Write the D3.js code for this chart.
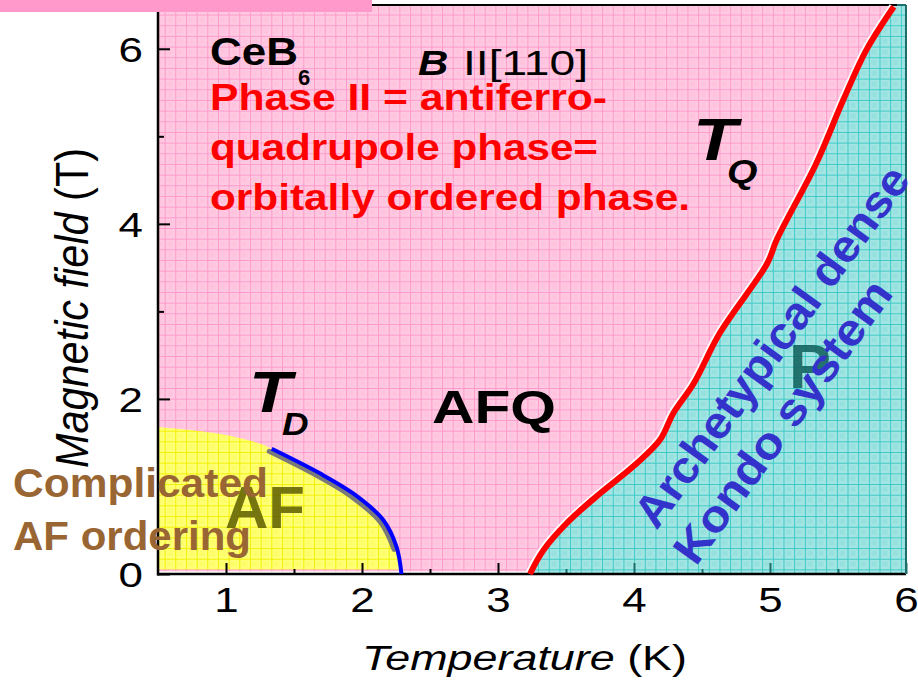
<!DOCTYPE html>
<html>
<head>
<meta charset="utf-8">
<script src="https://cdn.jsdelivr.net/npm/d3@7"></script>
<style>
  html, body { margin: 0; padding: 0; background: #ffffff; }
  svg { display: block; font-family: "Liberation Sans", Arial, Helvetica, sans-serif; }
</style>
</head>
<body>
<svg id="chart" width="918" height="689"></svg>
<script>
// ---- data: CeB6 phase diagram, B || [110] ----
const xTicks = [1, 2, 3, 4, 5, 6];
const xMinorTicks = [1.5, 2.5, 3.5, 4.5, 5.5];
const yTicks = [0, 2, 4, 6];
const yMinorTicks = [1, 3, 5];

// T_Q boundary (AFQ <-> paramagnetic), [T (K), B (T)]
const tqCurve = [[3.235, 0], [3.333, 0.27], [3.505, 0.58], [3.75, 0.92], [3.995, 1.23],
  [4.19, 1.53], [4.29, 1.84], [4.44, 2.18], [4.63, 2.75], [4.98, 3.55], [5.05, 3.82],
  [5.34, 4.69], [5.54, 5.42], [5.71, 5.99], [5.91, 6.48]];
// T_D boundary (AF <-> AFQ)
const tdCurve = [[1.336, 1.43], [1.69, 1.15], [1.935, 0.92], [2.155, 0.62], [2.254, 0.31],
  [2.29, 0]];
// upper edge of the AF region left of the measured T_D line
const afEdge = [[0.5, 1.68], [0.96, 1.60], [1.25, 1.49]];

const xDomain = [0.5, 6];
const yDomain = [0, 6.5];

(function draw() {
  // ---- layout ----
  const svg = d3.select("#chart");
  const plotLeft = 158, plotRight = 906, plotTop = 5, plotBottom = 574;
  const x = d3.scaleLinear().domain(xDomain).range([plotLeft, plotRight]);
  const y = d3.scaleLinear().domain(yDomain).range([plotBottom, plotTop]);

  // grid-pattern fills for the three phase regions
  const defs = svg.append("defs");
  function gridPattern(id, bg, line) {
    const s = 10.67;
    const p = defs.append("pattern").attr("id", id)
      .attr("patternUnits", "userSpaceOnUse")
      .attr("x", 4.57).attr("y", 3.9).attr("width", s).attr("height", s);
    p.append("rect").attr("width", s).attr("height", s).attr("fill", bg);
    p.append("rect").attr("width", s / 2).attr("height", s / 2).attr("x", s / 4).attr("y", s / 4)
      .attr("fill", line).attr("opacity", 0.12);
    p.append("line").attr("x1", 0.5).attr("x2", 0.5).attr("y1", 0).attr("y2", s)
      .attr("stroke", line).attr("stroke-width", 1);
    p.append("line").attr("y1", 0.5).attr("y2", 0.5).attr("x1", 0).attr("x2", s)
      .attr("stroke", line).attr("stroke-width", 1);
  }
  gridPattern("gridPink", "#ffc9e1", "#ff9acb");
  gridPattern("gridTeal", "#a3e5e3", "#3cc9c6");
  gridPattern("gridYellow", "#ffff78", "#f2f000");

  // AFQ (phase II) background
  svg.append("rect")
    .attr("x", x(xDomain[0])).attr("y", y(yDomain[1]))
    .attr("width", x(xDomain[1]) - x(xDomain[0]))
    .attr("height", y(0.03) - y(yDomain[1]))
    .attr("fill", "url(#gridPink)");

  const lineGen = d3.line().x(d => x(d[0])).y(d => y(d[1])).curve(d3.curveCatmullRom.alpha(0.5));

  // paramagnetic region, right of T_Q
  svg.append("path")
    .attr("d", lineGen(tqCurve) +
      `L${x(xDomain[1])},${y(yDomain[1])}L${x(xDomain[1])},${y(0)}Z`)
    .attr("fill", "url(#gridTeal)");

  // AF region
  const afRegion = afEdge.concat(tdCurve);
  svg.append("path")
    .attr("d", lineGen(afRegion) +
      `L${x(tdCurve[tdCurve.length - 1][0])},${y(0.05)}L${x(xDomain[0])},${y(0.05)}Z`)
    .attr("fill", "url(#gridYellow)");

  // ---- axes ----
  const tealInk = "#1d6d6b";
  const xAxis = svg.append("g").attr("transform", `translate(0,${plotBottom})`)
    .call(d3.axisBottom(x).tickValues(xTicks).tickSizeInner(-11).tickSizeOuter(0).tickPadding(0)
      .tickFormat(d3.format("d")));
  const xMinor = svg.append("g").attr("transform", `translate(0,${plotBottom})`)
    .call(d3.axisBottom(x).tickValues(xMinorTicks).tickSizeInner(-5).tickSizeOuter(0).tickFormat(""));
  const yAxis = svg.append("g").attr("transform", `translate(${plotLeft},0)`)
    .call(d3.axisLeft(y).tickValues(yTicks).tickSizeInner(-12).tickSizeOuter(0).tickPadding(0)
      .tickFormat(d3.format("d")));
  const yMinor = svg.append("g").attr("transform", `translate(${plotLeft},0)`)
    .call(d3.axisLeft(y).tickValues(yMinorTicks).tickSizeInner(-6).tickSizeOuter(0).tickFormat(""));

  [xAxis, xMinor, yAxis, yMinor].forEach(g => {
    g.select(".domain").remove();
    g.selectAll(".tick line").attr("stroke", "#000").attr("stroke-width", 2);
  });
  // ticks that sit inside the paramagnetic region take its dark teal ink
  [xAxis, xMinor].forEach(g => {
    g.selectAll(".tick line").attr("stroke", d => d >= 3.5 ? tealInk : "#000");
  });

  xAxis.selectAll(".tick text")
    .attr("y", null).attr("dy", null)
    .attr("transform", "translate(0,38) scale(1.22,1)")
    .attr("text-anchor", "middle")
    .attr("fill", "#000")
    .style("font-size", "36px")
    .style("font-family", "'Liberation Sans', Arial, sans-serif");
  yAxis.selectAll(".tick text")
    .attr("x", null).attr("dy", null)
    .attr("transform", "translate(-15,12.5) scale(1.22,1)")
    .attr("text-anchor", "end")
    .attr("fill", "#000")
    .style("font-size", "36px")
    .style("font-family", "'Liberation Sans', Arial, sans-serif");

  // frame
  svg.append("line").attr("x1", plotLeft).attr("x2", plotLeft).attr("y1", plotTop).attr("y2", plotBottom + 1.5)
    .attr("stroke", "#000").attr("stroke-width", 2.5);
  svg.append("line").attr("x1", plotLeft - 1).attr("x2", plotRight).attr("y1", plotBottom).attr("y2", plotBottom)
    .attr("stroke", "#000").attr("stroke-width", 2.5);
  svg.append("line").attr("x1", plotLeft).attr("x2", 897).attr("y1", plotTop).attr("y2", plotTop)
    .attr("stroke", "#000").attr("stroke-width", 2);
  svg.append("line").attr("x1", 897).attr("x2", plotRight).attr("y1", plotTop).attr("y2", plotTop)
    .attr("stroke", tealInk).attr("stroke-width", 2);
  svg.append("line").attr("x1", plotRight).attr("x2", plotRight).attr("y1", plotTop).attr("y2", plotBottom)
    .attr("stroke", tealInk).attr("stroke-width", 2);

  // ---- phase boundaries ----
  // T_D with its grey drop shadow
  svg.append("path").attr("d", lineGen(tdCurve.slice(0, 5)))
    .attr("transform", "translate(-2.5,2.5)")
    .attr("fill", "none").attr("stroke", "#7a7a7a").attr("stroke-width", 5)
    .attr("stroke-linecap", "round");
  svg.append("path").attr("d", lineGen(tdCurve))
    .attr("fill", "none").attr("stroke", "#0000ff").attr("stroke-width", 4);

  // T_Q with thin white edge
  svg.append("path").attr("d", lineGen(tqCurve))
    .attr("transform", "translate(-1.6,-0.8)")
    .attr("fill", "none").attr("stroke", "#ffffff").attr("stroke-width", 6);
  svg.append("path").attr("d", lineGen(tqCurve))
    .attr("fill", "none").attr("stroke", "#ff0000").attr("stroke-width", 6);

  // ---- text ----
  function txt(transform, str, o) {
    const t = svg.append("text").attr("transform", transform)
      .style("font-size", o.size + "px")
      .style("font-weight", o.weight || "normal")
      .style("font-style", o.style || "normal")
      .attr("fill", o.fill || "#000")
      .attr("text-anchor", o.anchor || "start");
    if (o.dy) t.attr("dy", o.dy);
    if (o.len) t.attr("textLength", o.len).attr("lengthAdjust", "spacingAndGlyphs");
    if (str !== null) t.text(str);
    return t;
  }

  // axis titles
  const xt = txt("translate(524.5,670)", null, { size: 35, anchor: "middle", len: 325 });
  xt.append("tspan").style("font-style", "italic").text("Temperature");
  xt.append("tspan").text(" (K)");
  const yt = txt("translate(88,308) scale(1.28,1) rotate(-90)", null, { size: 36, anchor: "middle", len: 320 });
  yt.append("tspan").style("font-style", "italic").text("Magnetic field");
  yt.append("tspan").text(" (T)");

  // compound and field direction
  txt("translate(210,65)", "CeB", { size: 38, weight: "bold", len: 88 });
  txt("translate(298,85)", "6", { size: 22, weight: "bold" });
  txt("translate(418,75) scale(1.2,1)", "B", { size: 35, weight: "bold", style: "italic" });
  txt("translate(463,75)", "II[110]", { size: 35, len: 125 });

  // phase II note
  const red = "#ff0000";
  txt("translate(210,110)", "Phase II = antiferro-", { size: 36, weight: "bold", fill: red, len: 397 });
  txt("translate(210,160)", "quadrupole phase=", { size: 36, weight: "bold", fill: red, len: 388 });
  txt("translate(210,210)", "orbitally ordered phase.", { size: 36, weight: "bold", fill: red, len: 480 });

  // transition labels
  txt("translate(693,160) scale(1.2,1)", "T", { size: 60, weight: "bold", style: "italic" });
  txt("translate(727,183) scale(1.15,1)", "Q", { size: 34, weight: "bold", style: "italic" });
  txt("translate(249,412) scale(1.2,1)", "T", { size: 58, weight: "bold", style: "italic" });
  txt("translate(282,435) scale(1.15,1)", "D", { size: 32, weight: "bold", style: "italic" });

  // phase names
  txt("translate(432,423)", "AFQ", { size: 47, weight: "bold", len: 124 });
  txt("translate(225,528)", "AF", { size: 60, weight: "bold", fill: "#5e5e00" }).attr("opacity", 0.85);
  txt("translate(13,497)", "Complicated", { size: 41, weight: "bold", fill: "#996633", len: 255 });
  txt("translate(13,550)", "AF ordering", { size: 41, weight: "bold", fill: "#996633", len: 238 });
  txt("translate(789,388)", "P", { size: 63, weight: "bold", fill: "#0f5f5b" }).attr("opacity", 0.85);

  const blue = "#3333cc";
  txt("translate(771,346) rotate(-54)", "Archetypical dense", { size: 45, weight: "bold", fill: blue, anchor: "middle", dy: "0.36em", len: 434 });
  txt("translate(782,421) rotate(-54)", "Kondo system", { size: 45, weight: "bold", fill: blue, anchor: "middle", dy: "0.36em", len: 338 });

  // pink header strip
  svg.append("rect").attr("x", 0).attr("y", 0).attr("width", 372).attr("height", 12).attr("fill", "#ff99cc");
})();
</script>
</body>
</html>
